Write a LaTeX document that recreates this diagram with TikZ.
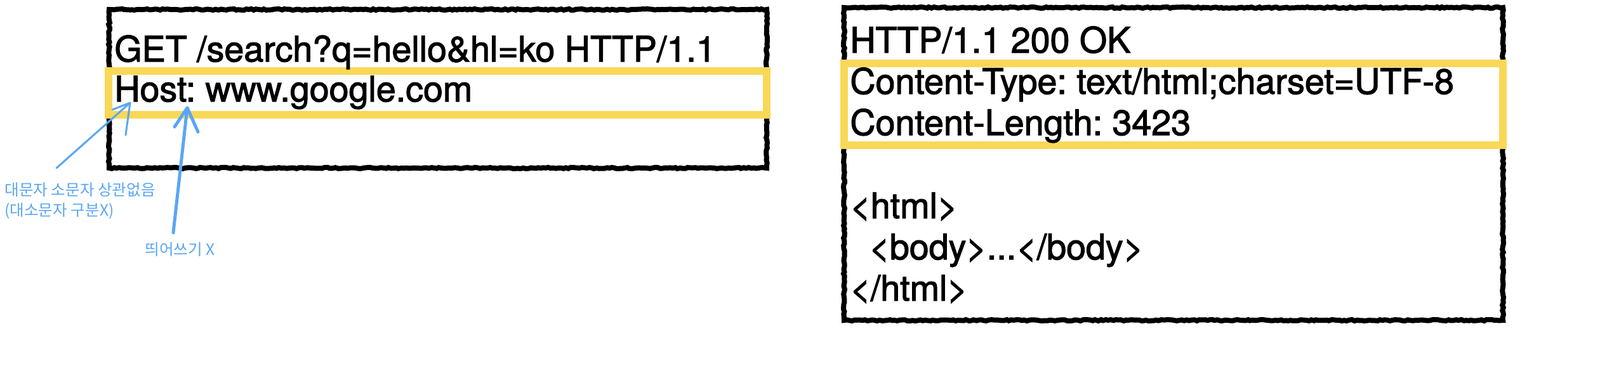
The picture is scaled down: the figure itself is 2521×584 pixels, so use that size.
\documentclass[tikz,border=0pt]{standalone}
\usepackage{fontspec}
\setmainfont{TeX Gyre Heros}
\newfontfamily\msgfont{TeX Gyre Heros}[FakeBold=2]
\newfontfamily\kofont{Noto Sans CJK KR}
\usetikzlibrary{decorations.pathmorphing}
\definecolor{hlyellow}{RGB}{249,216,87}
\definecolor{noteblue}{RGB}{90,166,245}
\frenchspacing

\begin{document}
\begin{tikzpicture}[x=0.5pt, y=-0.5pt,
  roughbox/.style={draw=black, line width=4pt, decorate,
    decoration={random steps, segment length=2pt, amplitude=0.5pt}},
  hlbox/.style={draw=hlyellow, line width=6pt},
  msg/.style={anchor=base west, inner sep=0pt, font=\msgfont\fontsize{27.8}{32}\selectfont},
  note/.style={anchor=base west, inner sep=0pt, align=left, text=noteblue,
    font=\kofont\fontsize{12.3}{16}\selectfont},
  notearrow/.style={draw=noteblue, line cap=round, line join=round}]
  \useasboundingbox (0,0) rectangle (2521,584);
  % request message
  \draw[roughbox] (172,15) rectangle (1208,265);
  \draw[hlbox] (171,111.5) rectangle (1208,181);
  \node[msg] (reqline) at (180,97) {GET /search?q=hello\&hl=ko HTTP/1.1};
  \node[msg] (host) at (180,160) {Host: www.google.com};
  % response message
  \draw[roughbox] (1330,12) rectangle (2368,505);
  \draw[hlbox] (1330,100) rectangle (2368,229);
  \node[msg] (status) at (1339,83) {HTTP/1.1 200 OK};
  \node[msg] (ctype) at (1339,148) {Content-Type: text/html;charset=UTF-8};
  \node[msg] (clen) at (1339,213) {Content-Length: 3423};
  \node[msg] (htmlopen) at (1339,344) {<html>};
  \node[msg] (body) at (1369,409) {<body>...</body>};
  \node[msg] (htmlclose) at (1339,474) {</html>};
  % notes
  \node[note] (casenote) at (7,340) {대문자 소문자 상관없음\\(대소문자 구분X)};
  \node[note] (spacenote) at (228,402) {띄어쓰기 X};
  \coordinate (hostH) at (205,162);
  \coordinate (hostColon) at (295,170);
  \draw[notearrow, line width=1.5pt] ([shift={(82,-75)}]casenote.base west) -- (hostH)
    -- ++(-28,11) (hostH) -- ++(-7,51);
  \draw[notearrow, line width=2.5pt] ([shift={(45,-35)}]spacenote.base west) -- (hostColon)
    -- ++(-20,30) (hostColon) -- ++(17,38);
  %\draw[notearrow] (host.south) -- (casenote.north);
\end{tikzpicture}
\end{document}
